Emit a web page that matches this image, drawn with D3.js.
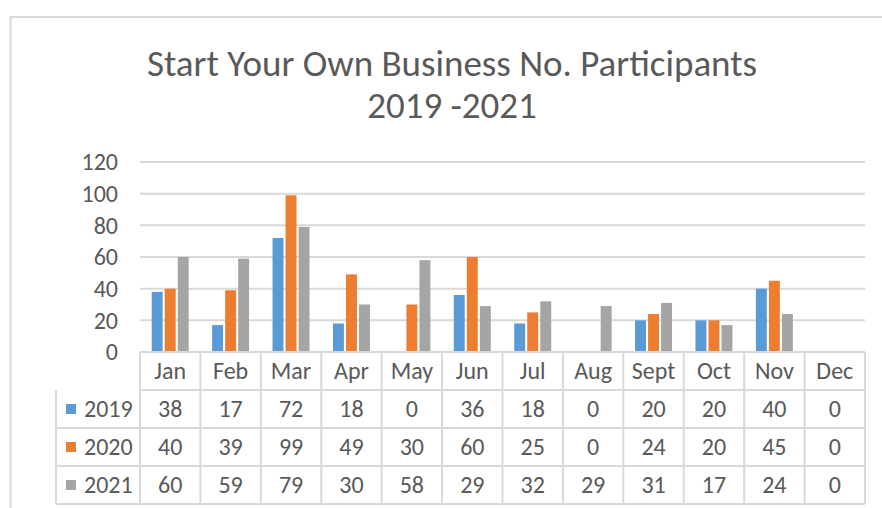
<!DOCTYPE html>
<html>
    <head>
        <meta charset="utf-8">
        <title>Start Your Own Business No. Participants</title>
        <style type="text/css">
            body {
                margin: 0;
                background-color: #ffffff;
            }

            text {
                font-family: Calibri, Carlito, Lato, "Open Sans", sans-serif;
                fill: #595959;
            }

            .title {
                font-size: 37px;
                font-weight: 300;
            }

            .tick, .cell {
                font-size: 24px;
            }
        </style>
        <script src="https://d3js.org/d3.v7.min.js"></script>
    </head>

    <body>
        <svg id="chart" width="882" height="508"></svg>

        <script>
            const months = ["Jan", "Feb", "Mar", "Apr", "May", "Jun", "Jul", "Aug", "Sept", "Oct", "Nov", "Dec"];
            const years = ["2019", "2020", "2021"];
            const values2019 = [38, 17, 72, 18, 0, 36, 18, 0, 20, 20, 40, 0];
            const values2020 = [40, 39, 99, 49, 30, 60, 25, 0, 24, 20, 45, 0];
            const values2021 = [60, 59, 79, 30, 58, 29, 32, 29, 31, 17, 24, 0];
            const yTicks = [0, 20, 40, 60, 80, 100, 120];
            const titleLines = ["Start Your Own Business No. Participants", "2019 -2021"];

            const colours = ["#5b9bd5", "#ed7d31", "#a5a5a5"];
            const gridColour = "#d9d9d9";

            const seriesValues = [values2019, values2020, values2021];
            const series = years.map((year, i) => ({
                year: year,
                colour: colours[i],
                values: seriesValues[i]
            }));

            const svg = d3.select("#chart");

            svg.append("rect")
                .attr("width", 882)
                .attr("height", 508)
                .attr("fill", "#ffffff");

            // chart area border
            svg.append("rect")
                .attr("x", 10.5)
                .attr("y", 17)
                .attr("width", 900)
                .attr("height", 600)
                .attr("fill", "none")
                .attr("stroke", gridColour)
                .attr("stroke-width", 2);

            // title
            svg.selectAll("text.title")
                .data(titleLines)
                .join("text")
                .attr("class", "title")
                .attr("x", 452)
                .attr("y", (d, i) => 76 + i * 42)
                .attr("text-anchor", "middle")
                .text(d => d);

            const x0 = d3.scaleBand()
                .domain(months)
                .range([140, 865]);

            const groupWidth = 37;
            const x1 = d3.scaleBand()
                .domain(years)
                .range([(x0.bandwidth() - groupWidth) / 2, (x0.bandwidth() + groupWidth) / 2])
                .paddingInner(0.16);

            const y = d3.scaleLinear()
                .domain([0, 120])
                .range([352, 162]);

            // gridlines
            svg.append("g")
                .selectAll("line")
                .data(yTicks.filter(d => d > 0))
                .join("line")
                .attr("x1", x0.range()[0])
                .attr("x2", x0.range()[1])
                .attr("y1", d => y(d))
                .attr("y2", d => y(d))
                .attr("stroke", gridColour)
                .attr("stroke-width", 2);

            // y tick labels
            svg.append("g")
                .selectAll("text")
                .data(yTicks)
                .join("text")
                .attr("class", "tick")
                .attr("x", 118)
                .attr("y", d => y(d))
                .attr("dy", "0.35em")
                .attr("text-anchor", "end")
                .text(d => d);

            // bars
            svg.append("g")
                .selectAll("g")
                .data(series)
                .join("g")
                .attr("fill", d => d.colour)
                .selectAll("rect")
                .data(d => d.values.map((v, i) => ({ year: d.year, month: months[i], value: v })))
                .join("rect")
                .attr("x", d => x0(d.month) + x1(d.year))
                .attr("y", d => y(d.value))
                .attr("width", x1.bandwidth())
                .attr("height", d => y(0) - y(d.value));

            // data table
            const rows = d3.scaleBand()
                .domain(["header"].concat(years))
                .range([352, 504]);

            const table = svg.append("g")
                .attr("stroke", gridColour)
                .attr("stroke-width", 2);

            const legendLeft = 56;

            // horizontal table lines
            table.selectAll("line.h")
                .data(rows.domain().concat(["end"]))
                .join("line")
                .attr("class", "h")
                .attr("x1", (d, i) => i < 2 ? x0.range()[0] : legendLeft)
                .attr("x2", x0.range()[1])
                .attr("y1", (d, i) => i < 4 ? rows(d) : rows.range()[1])
                .attr("y2", (d, i) => i < 4 ? rows(d) : rows.range()[1]);

            // vertical table lines
            table.selectAll("line.v")
                .data(months.concat(["end"]))
                .join("line")
                .attr("class", "v")
                .attr("x1", (d, i) => i < 12 ? x0(d) : x0.range()[1])
                .attr("x2", (d, i) => i < 12 ? x0(d) : x0.range()[1])
                .attr("y1", rows.range()[0])
                .attr("y2", rows.range()[1]);

            table.append("line")
                .attr("x1", legendLeft)
                .attr("x2", legendLeft)
                .attr("y1", rows("2019"))
                .attr("y2", rows.range()[1]);

            // month labels
            svg.append("g")
                .selectAll("text")
                .data(months)
                .join("text")
                .attr("class", "cell")
                .attr("x", d => x0(d) + x0.bandwidth() / 2)
                .attr("y", rows("header") + rows.bandwidth() / 2)
                .attr("dy", "0.35em")
                .attr("text-anchor", "middle")
                .text(d => d);

            // value rows with legend keys
            const rowGroups = svg.append("g")
                .selectAll("g")
                .data(series)
                .join("g")
                .attr("transform", d => `translate(0,${rows(d.year) + rows.bandwidth() / 2})`);

            rowGroups.append("rect")
                .attr("x", 66)
                .attr("y", -5)
                .attr("width", 10)
                .attr("height", 10)
                .attr("fill", d => d.colour);

            rowGroups.append("text")
                .attr("class", "cell")
                .attr("x", 84)
                .attr("dy", "0.35em")
                .text(d => d.year);

            rowGroups.selectAll("text.val")
                .data(d => d.values.map((v, i) => ({ month: months[i], value: v })))
                .join("text")
                .attr("class", "cell val")
                .attr("x", d => x0(d.month) + x0.bandwidth() / 2)
                .attr("dy", "0.35em")
                .attr("text-anchor", "middle")
                .text(d => d.value);
        </script>
    </body>
</html>
